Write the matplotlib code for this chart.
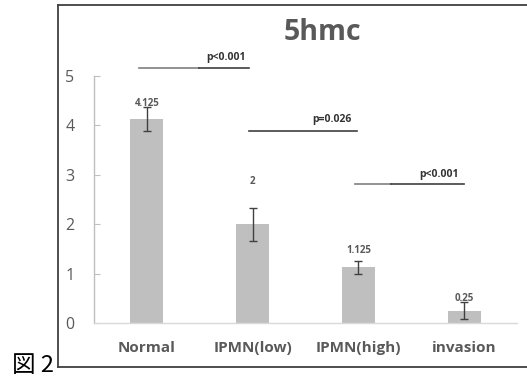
import matplotlib
matplotlib.use("Agg")
import matplotlib.pyplot as plt
from matplotlib.lines import Line2D

categories = ["Normal", "IPMN(low)", "IPMN(high)", "invasion"]
values = [4.125, 2.0, 1.125, 0.25]
errors = [0.24, 0.33, 0.135, 0.165]
value_labels = ["4.125", "2", "1.125", "0.25"]
label_y = [4.45, 2.86, 1.46, 0.49]

# significance comparisons: (x start, x end, y, label, label x)
comp_x0 = [-0.07, 0.97, 1.97]
comp_x1 = [0.97, 1.99, 3.0]
comp_split = [0.49, 0.97, 2.31]   # left part of the line is drawn lighter
comp_y = [5.17, 3.89, 2.82]
comp_labels = ["p<0.001", "p=0.026", "p<0.001"]
comp_label_x = [0.75, 1.75, 2.76]
comp_label_y = [5.38, 4.12, 3.0]

yticks = [0, 1, 2, 3, 4, 5]

FONT = ["Open Sans", "DejaVu Sans"]
GRAY = "#595959"

W, H = 527, 381
fig = plt.figure(figsize=(W / 100, H / 100), dpi=100)

ax_left = 94 / W
ax_right = 517 / W
ax_bottom = (H - 323) / H
unit = 49.4
ytop = 6.3
ax = fig.add_axes([ax_left, ax_bottom, ax_right - ax_left, ytop * unit / H])

x = list(range(len(categories)))
ax.bar(x, values, width=0.31, color="#bfbfbf", zorder=2)
ax.errorbar(x, values, yerr=errors, fmt="none", ecolor="#404040",
            elinewidth=1.0, capsize=3, capthick=1.0, zorder=3)
for xi, yl, t in zip(x, label_y, value_labels):
    ax.text(xi, yl, t, ha="center", va="center", fontsize=7,
            fontweight="bold", color=GRAY, family=FONT, zorder=4)

for x0, xs, x1, y, lab, lx, ly in zip(comp_x0, comp_split, comp_x1, comp_y,
                                      comp_labels, comp_label_x,
                                      comp_label_y):
    ax.plot([x0, xs], [y, y], color="#7f7f7f", lw=1.2, zorder=3,
            clip_on=False)
    ax.plot([xs, x1], [y, y], color="#404040", lw=1.2, zorder=3,
            clip_on=False)
    ax.text(lx, ly, lab, ha="center", va="center", fontsize=7.5,
            fontweight="bold", color="#333333", family=FONT)

ax.set_xlim(-0.5, 3.5)
ax.set_ylim(0, ytop)
ax.set_yticks(yticks)
ax.set_yticklabels([str(t) for t in yticks], family=FONT, fontsize=11.5,
                   color=GRAY)
ax.set_xticks(x)
ax.set_xticklabels(categories, family=FONT, fontsize=11, fontweight="bold",
                   color=GRAY)
ax.tick_params(axis="y", direction="in", length=4, color="#bfbfbf",
               pad=14)
ax.tick_params(axis="x", length=0, pad=13)
for s in ["top", "right"]:
    ax.spines[s].set_visible(False)
ax.spines["left"].set_bounds(0, 5)
ax.spines["left"].set_color("#bfbfbf")
ax.spines["bottom"].set_color("#d9d9d9")
ax.spines["left"].set_linewidth(1.0)
ax.spines["bottom"].set_linewidth(1.0)

fig.text(322 / W, 1 - 33 / H, "5hmc", ha="center", va="center",
         fontsize=20.5, fontweight="bold", color=GRAY, family=FONT)

# outer box (left, top, bottom edges)
bx0, by0, by1 = 57.5 / W, (H - 367) / H, (H - 4.5) / H
for xs, ys in [([bx0, bx0], [by0, by1]), ([bx0, 1.01], [by1, by1]),
               ([bx0, 1.01], [by0, by0])]:
    fig.add_artist(Line2D(xs, ys, transform=fig.transFigure,
                          color="#404040", lw=1.3))

fig.text(12 / W, 4 / H, "図 2", ha="left", va="bottom", fontsize=17,
         color="black", family=["Noto Sans CJK JP", "DejaVu Sans"])

fig.savefig("out.png", dpi=100)
